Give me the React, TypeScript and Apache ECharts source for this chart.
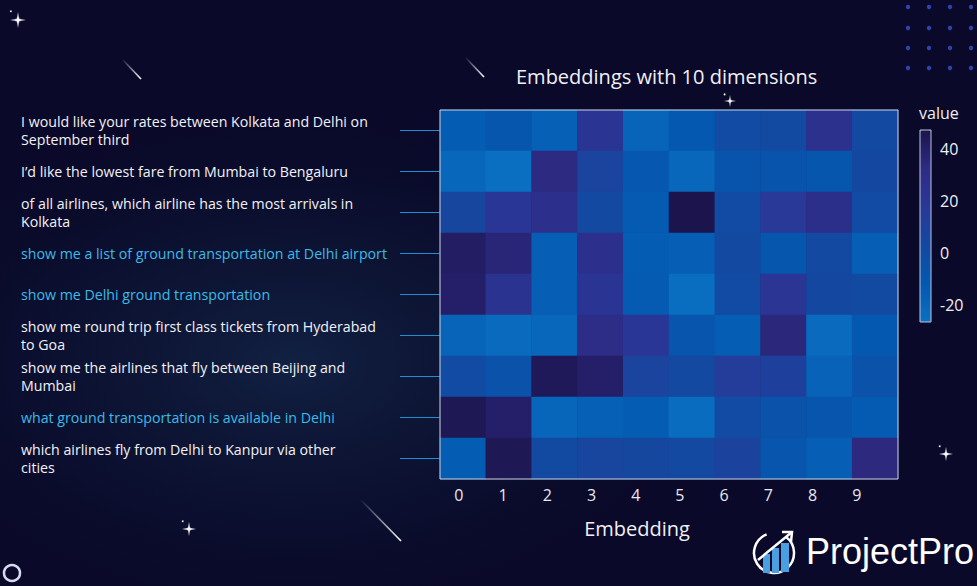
import React, { useEffect, useRef } from "react";
import * as echarts from "echarts";

const FONT = "'Open Sans', sans-serif";

const rowLabels = [
  "I would like your rates between Kolkata and Delhi on\nSeptember third",
  "I’d like the lowest fare from Mumbai to Bengaluru",
  "of all airlines, which airline has the most arrivals in\nKolkata",
  "show me a list of ground transportation at Delhi airport",
  "show me Delhi ground transportation",
  "show me round trip first class tickets from Hyderabad\nto Goa",
  "show me the airlines that fly between Beijing and\nMumbai",
  "what ground transportation is available in Delhi",
  "which airlines fly from Delhi to Kanpur via other\ncities",
];
const highlightedRows = [3, 4, 7];

const dimensions = ["0", "1", "2", "3", "4", "5", "6", "7", "8", "9"];

const row0 = [-14, -10, -17, 22, -19, -12, 0, 1, 26, 2];
const row1 = [-21, -26, 33, 7, -11, -21, -8, -8, -10, 3];
const row2 = [5, 20, 27, 2, -13, 47, 0, 17, 28, 0];
const row3 = [41, 36, -16, 27, -14, -16, 2, -10, 2, -16];
const row4 = [40, 23, -16, 22, -13, -25, 0, 21, 3, 1];
const row5 = [-19, -23, -21, 31, 20, -9, -15, 35, -23, -12];
const row6 = [0, -6, 44, 40, 7, 2, 14, 10, -18, -6];
const row7 = [45, 40, -20, -17, -14, -24, 0, -6, -9, -13];
const row8 = [-14, 45, 1, 6, 4, 2, 8, -9, -16, 34];
const embeddingRows = [row0, row1, row2, row3, row4, row5, row6, row7, row8];

const colorMin = -26.5;
const colorMax = 47.3;
const colorbarTicks = [-20, 0, 20, 40];
const colorStops = ["#0a70c2", "#0458b0", "#1448a0", "#293898", "#2e2b84", "#1b144c"];

function sparkle(cx: number, cy: number, r: number): any {
  const ri = r * 0.18;
  const pts: number[][] = [];
  for (let i = 0; i < 8; i++) {
    const a = (Math.PI / 4) * i - Math.PI / 2;
    const rr = i % 2 === 0 ? r : ri;
    pts.push([cx + rr * Math.cos(a), cy + rr * Math.sin(a)]);
  }
  return {
    type: "group",
    children: [
      { type: "circle", shape: { cx, cy, r: r * 0.35 }, style: { fill: "rgba(255,255,255,0.35)" } },
      { type: "polygon", shape: { points: pts }, style: { fill: "#ffffff" } },
      { type: "circle", shape: { cx: cx - r * 0.9, cy: cy - r * 1.1, r: 0.9 }, style: { fill: "#ffffff" } },
    ],
  };
}

function streak(x1: number, y1: number, x2: number, y2: number): any {
  return {
    type: "line",
    shape: { x1, y1, x2, y2 },
    style: {
      lineWidth: 1.6,
      stroke: new echarts.graphic.LinearGradient(0, 0, 1, 1, [
        { offset: 0, color: "rgba(255,255,255,0)" },
        { offset: 1, color: "rgba(255,255,255,1)" },
      ]),
    },
  };
}

export default function App() {
  const ref = useRef<HTMLDivElement>(null);
  useEffect(() => {
    document.body.style.margin = "0";
    const chart = echarts.init(ref.current!, undefined, { renderer: "svg" });
    const data: number[][] = [];
    embeddingRows.forEach((row, y) => row.forEach((v, x) => data.push([x, y, v])));

    const dots: any[] = [];
    [908, 929, 950, 971].forEach((x) =>
      [7, 28, 48, 68].forEach((y) =>
        dots.push({ type: "circle", shape: { cx: x, cy: y, r: 2.2 }, style: { fill: "#2c44ad" } })
      )
    );

    // x tick labels in the reference sit slightly left of the cell centres
    const xRich: any = {};
    dimensions.forEach((_d, i) => {
      const shift = 4 + 1.6 * i;
      xRich["d" + i] = { padding: [0, 2 * shift, 0, 0], color: "#e8e8f0", fontSize: 16, fontFamily: FONT };
    });

    const option: any = {
      animation: false,
      backgroundColor: "#0a0929",
      textStyle: { fontFamily: FONT },
      title: [
        {
          text: "Embeddings with 10 dimensions",
          left: 516,
          top: 66,
          padding: 0,
          textStyle: { color: "#f0f0f5", fontSize: 20, fontWeight: "normal", fontFamily: FONT },
        },
        {
          text: "value",
          left: 919,
          top: 105,
          padding: 0,
          textStyle: { color: "#f0f0f5", fontSize: 16, fontWeight: "normal", fontFamily: FONT },
        },
      ],
      grid: [
        { left: 440, top: 110, width: 458, height: 369 },
        { left: 931, top: 130, width: 1, height: 192 },
      ],
      xAxis: [
        {
          type: "category",
          gridIndex: 0,
          data: dimensions,
          axisLine: { show: false },
          axisTick: { show: false },
          splitLine: { show: false },
          axisLabel: {
            interval: 0,
            hideOverlap: false,
            margin: 8,
            formatter: (v: string, i: number) => "{d" + i + "|" + v + "}",
            rich: xRich,
          },
          name: "Embedding",
          nameLocation: "middle",
          nameGap: 39,
          nameTextStyle: { color: "#f0f0f5", fontSize: 20, fontFamily: FONT, padding: [0, 64, 0, 0] },
        },
        { type: "value", gridIndex: 1, show: false },
      ],
      yAxis: [
        {
          type: "category",
          gridIndex: 0,
          data: rowLabels,
          inverse: true,
          axisLine: { show: false },
          splitLine: { show: false },
          axisTick: {
            show: true,
            alignWithLabel: true,
            length: 40,
            lineStyle: { color: "#1d8fd0", width: 1 },
          },
          axisLabel: {
            interval: 0,
            align: "left",
            margin: 419,
            fontSize: 14.2,
            lineHeight: 18,
            fontFamily: FONT,
            color: (_v: any, i: number) => (highlightedRows.includes(i) ? "#3cbbe6" : "#f2f2f6"),
          },
        },
        {
          type: "value",
          gridIndex: 1,
          min: colorMin,
          max: colorMax,
          position: "right",
          axisLine: { show: false },
          axisTick: { show: false },
          splitLine: { show: false },
          axisLabel: {
            showMinLabel: false,
            showMaxLabel: false,
            margin: 8,
            color: "#f0f0f5",
            fontSize: 16,
            fontFamily: FONT,
            formatter: (v: number) => (colorbarTicks.includes(Math.round(v * 1000) / 1000) ? String(v) : ""),
          },
        },
      ],
      visualMap: {
        type: "continuous",
        min: colorMin,
        max: colorMax,
        seriesIndex: 0,
        left: 920,
        top: 130,
        padding: 0,
        itemWidth: 11,
        itemHeight: 192,
        calculable: false,
        inRange: { color: colorStops },
      },
      series: [
        {
          type: "heatmap",
          xAxisIndex: 0,
          yAxisIndex: 0,
          data,
          itemStyle: { borderWidth: 0 },
          emphasis: { disabled: true },
        },
      ],
      graphic: [
        {
          type: "rect",
          z: -10,
          silent: true,
          shape: { x: 0, y: 0, width: 977, height: 586 },
          style: {
            fill: new echarts.graphic.RadialGradient(0.3, 0.62, 0.45, [
              { offset: 0, color: "rgba(24,52,86,0.55)" },
              { offset: 0.6, color: "rgba(16,34,66,0.25)" },
              { offset: 1, color: "rgba(10,9,41,0)" },
            ]),
          },
        },
        {
          type: "rect",
          z: 100,
          silent: true,
          shape: { x: 440, y: 110, width: 458, height: 369 },
          style: { fill: "none", stroke: "#cdd5e6", lineWidth: 1 },
        },
        {
          type: "rect",
          z: 100,
          silent: true,
          shape: { x: 920, y: 130, width: 11, height: 192 },
          style: { fill: "none", stroke: "#b9c4dc", lineWidth: 1 },
        },
        ...dots,
        sparkle(18, 20, 8),
        sparkle(730, 101, 6),
        sparkle(189, 529, 7),
        sparkle(946, 454, 7),
        streak(122, 59, 141, 79),
        streak(465, 57, 484, 77),
        streak(360, 499, 401, 541),
        {
          type: "circle",
          shape: { cx: 12, cy: 573, r: 8 },
          style: { fill: "none", stroke: "#d4dbef", lineWidth: 2.5 },
        },
        {
          type: "arc",
          shape: { cx: 774, cy: 553, r: 20, startAngle: -Math.PI * 0.3, endAngle: -Math.PI * 0.62, clockwise: true },
          style: { stroke: "#ffffff", lineWidth: 2.5, fill: "none" },
        },
        { type: "rect", shape: { x: 763, y: 554, width: 7, height: 19 }, style: { fill: "#4a9fe2" } },
        { type: "rect", shape: { x: 772, y: 548, width: 7, height: 25 }, style: { fill: "#4a9fe2" } },
        { type: "rect", shape: { x: 781, y: 543, width: 8, height: 29 }, style: { fill: "#4a9fe2" } },
        {
          type: "line",
          shape: { x1: 758, y1: 560, x2: 792, y2: 532 },
          style: { stroke: "#ffffff", lineWidth: 2.5 },
        },
        {
          type: "polyline",
          shape: { points: [[782, 532], [792, 532], [791, 542]] },
          style: { stroke: "#ffffff", lineWidth: 2.5, fill: "none" },
        },
        {
          type: "text",
          x: 806,
          y: 551,
          style: {
            text: "ProjectPro",
            fill: "#ffffff",
            fontSize: 36,
            fontFamily: "'Liberation Sans', sans-serif",
            verticalAlign: "middle",
            align: "left",
          },
        },
      ],
    };
    chart.setOption(option);
    return () => chart.dispose();
  }, []);
  return <div ref={ref} style={{ position: "absolute", left: 0, top: 0, width: 977, height: 586 }} />;
}
